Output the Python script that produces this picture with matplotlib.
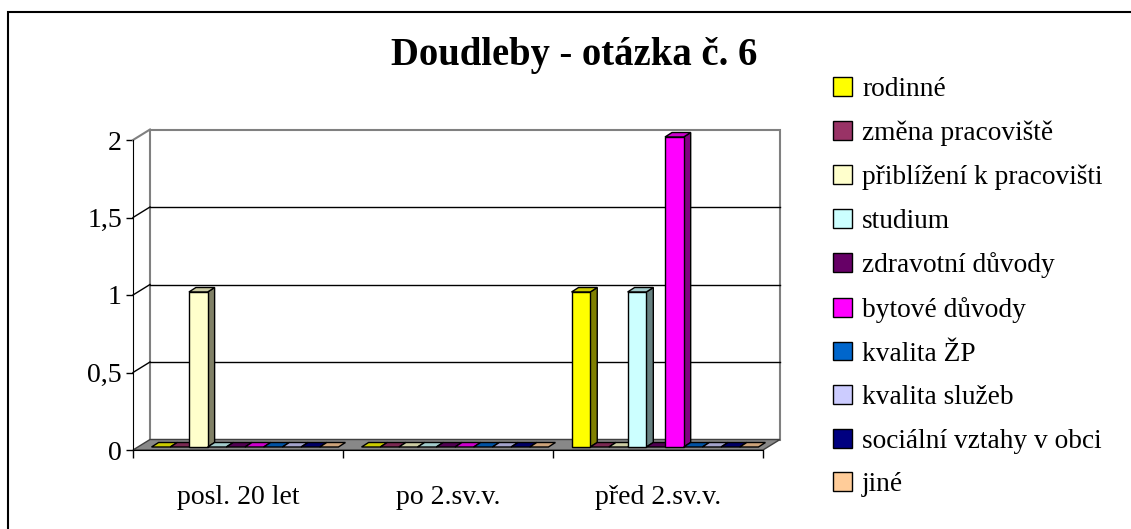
import numpy as np
import matplotlib
matplotlib.use('Agg')
import matplotlib.pyplot as plt
from matplotlib.patches import Rectangle, Polygon, Patch

plt.rcParams['font.family'] = ['Liberation Serif', 'DejaVu Serif']

# ---- data ----
title = 'Doudleby - otázka č. 6'
categories = ['posl. 20 let', 'po 2.sv.v.', 'před 2.sv.v.']
series = ['rodinné', 'změna pracoviště', 'přiblížení k pracovišti', 'studium',
          'zdravotní důvody', 'bytové důvody', 'kvalita ŽP', 'kvalita služeb',
          'sociální vztahy v obci', 'jiné']
values = [
    [0, 0, 1],   # rodinné
    [0, 0, 0],   # změna pracoviště
    [1, 0, 0],   # přiblížení k pracovišti
    [0, 0, 1],   # studium
    [0, 0, 0],   # zdravotní důvody
    [0, 0, 2],   # bytové důvody
    [0, 0, 0],   # kvalita ŽP
    [0, 0, 0],   # kvalita služeb
    [0, 0, 0],   # sociální vztahy v obci
    [0, 0, 0],   # jiné
]
colors = ['#FFFF00', '#993366', '#FFFFCC', '#CCFFFF', '#660066',
          '#FF00FF', '#0066CC', '#CCCCFF', '#000080', '#FFCC99']
yticks = [0, 0.5, 1, 1.5, 2]
ytick_labels = ['0', '0,5', '1', '1,5', '2']

W, H = 1131, 529
fig = plt.figure(figsize=(W / 100, H / 100), dpi=100, facecolor='white')

# front plane of the 3D box
ax = fig.add_axes([133 / W, 1 - 450 / H, 630 / W, 310 / H])
ax.set_xlim(-0.5, len(categories) - 0.5)
ax.set_ylim(0, 2)
ax.patch.set_visible(False)
for side in ['top', 'right']:
    ax.spines[side].set_visible(False)
ax.spines['left'].set_color('black')
ax.spines['bottom'].set_color('black')
ax.spines['left'].set_zorder(20)
ax.spines['bottom'].set_zorder(20)

x0, x1 = ax.get_xlim()
y0, y1 = ax.get_ylim()
sx = ax.bbox.width / (x1 - x0)   # pixels per data unit
sy = ax.bbox.height / (y1 - y0)

# depth of the walls and of the bars (in pixels -> data units)
wx, wy = 17 / sx, 10.5 / sy
fx, fy = 7 / sx, 3 / sy
bdx, bdy = 7 / sx, 4.5 / sy


def shade(c, f):
    r, g, b, _ = matplotlib.colors.to_rgba(c)
    return (r * f, g * f, b * f)


# back wall
ax.add_patch(Rectangle((x0 + wx, y0 + wy), x1 - x0, y1 - y0, facecolor='white',
                       edgecolor='#808080', lw=1.5, clip_on=False, zorder=1))
for y in yticks[1:-1]:
    ax.plot([x0 + wx, x1 + wx], [y + wy, y + wy], color='black', lw=1, clip_on=False, zorder=2)
    ax.plot([x0, x0 + wx], [y, y + wy], color='black', lw=1, clip_on=False, zorder=2)
ax.plot([x0, x0 + wx], [y1, y1 + wy], color='#808080', lw=1.5, clip_on=False, zorder=2)

# floor
ax.add_patch(Polygon([(x0, y0), (x1, y0), (x1 + wx, y0 + wy), (x0 + wx, y0 + wy)],
                     closed=True, facecolor='#888888', edgecolor='#404040', lw=1,
                     clip_on=False, zorder=3))

# 3D columns
n = len(series)
bw = 0.89 / n
z = 5
for j in range(len(categories)):
    for i in range(n):
        v = values[i][j]
        left = j - 0.445 + i * bw + fx
        col = colors[i]
        top = fy + v
        if v > 0:
            ax.add_patch(Polygon([(left + bw, fy), (left + bw + bdx, fy + bdy),
                                  (left + bw + bdx, top + bdy), (left + bw, top)],
                                 closed=True, facecolor=shade(col, 0.5), edgecolor='black',
                                 lw=1, clip_on=False, zorder=z))
        ax.add_patch(Polygon([(left, top), (left + bw, top), (left + bw + bdx, top + bdy),
                              (left + bdx, top + bdy)],
                             closed=True, facecolor=shade(col, 0.8), edgecolor='black',
                             lw=1, clip_on=False, zorder=z))
        if v > 0:
            ax.bar(left + bw / 2, v, width=bw, bottom=fy, color=col, edgecolor='black',
                   lw=1, clip_on=False, zorder=z + 0.5)
        z += 1

# axes ticks
ax.set_yticks(yticks)
ax.set_yticklabels(ytick_labels)
ax.tick_params(axis='y', direction='out', length=5, width=1, labelsize=20, pad=3)
ax.set_xticks(range(len(categories)))
ax.set_xticklabels(categories)
ax.tick_params(axis='x', which='major', length=0, labelsize=20, pad=25)
ax.set_xticks(np.arange(x0, x1 + 0.01, 1), minor=True)
ax.tick_params(axis='x', which='minor', direction='out', length=6, width=1)

fig.text(574 / W, 1 - 65 / H, title, ha='center', va='baseline', fontsize=27.8,
         fontweight='bold')

# legend
handles = [Patch(facecolor=c, edgecolor='black', lw=1) for c in colors]
fig.legend(handles, series, loc='upper left', bbox_to_anchor=(833 / W, 1 - 77 / H),
           frameon=False, fontsize=19.7, handlelength=0.68, handleheight=0.68,
           handletextpad=0.38, labelspacing=0.68, borderaxespad=0, borderpad=0)

# chart frame (top and left edges visible)
fig.patches.append(Rectangle((8 / W, -0.1), 1.2, 1.1 - 12 / H, transform=fig.transFigure,
                             facecolor='none', edgecolor='black', lw=1.5))

fig.savefig('out.png', dpi=100, facecolor='white')
